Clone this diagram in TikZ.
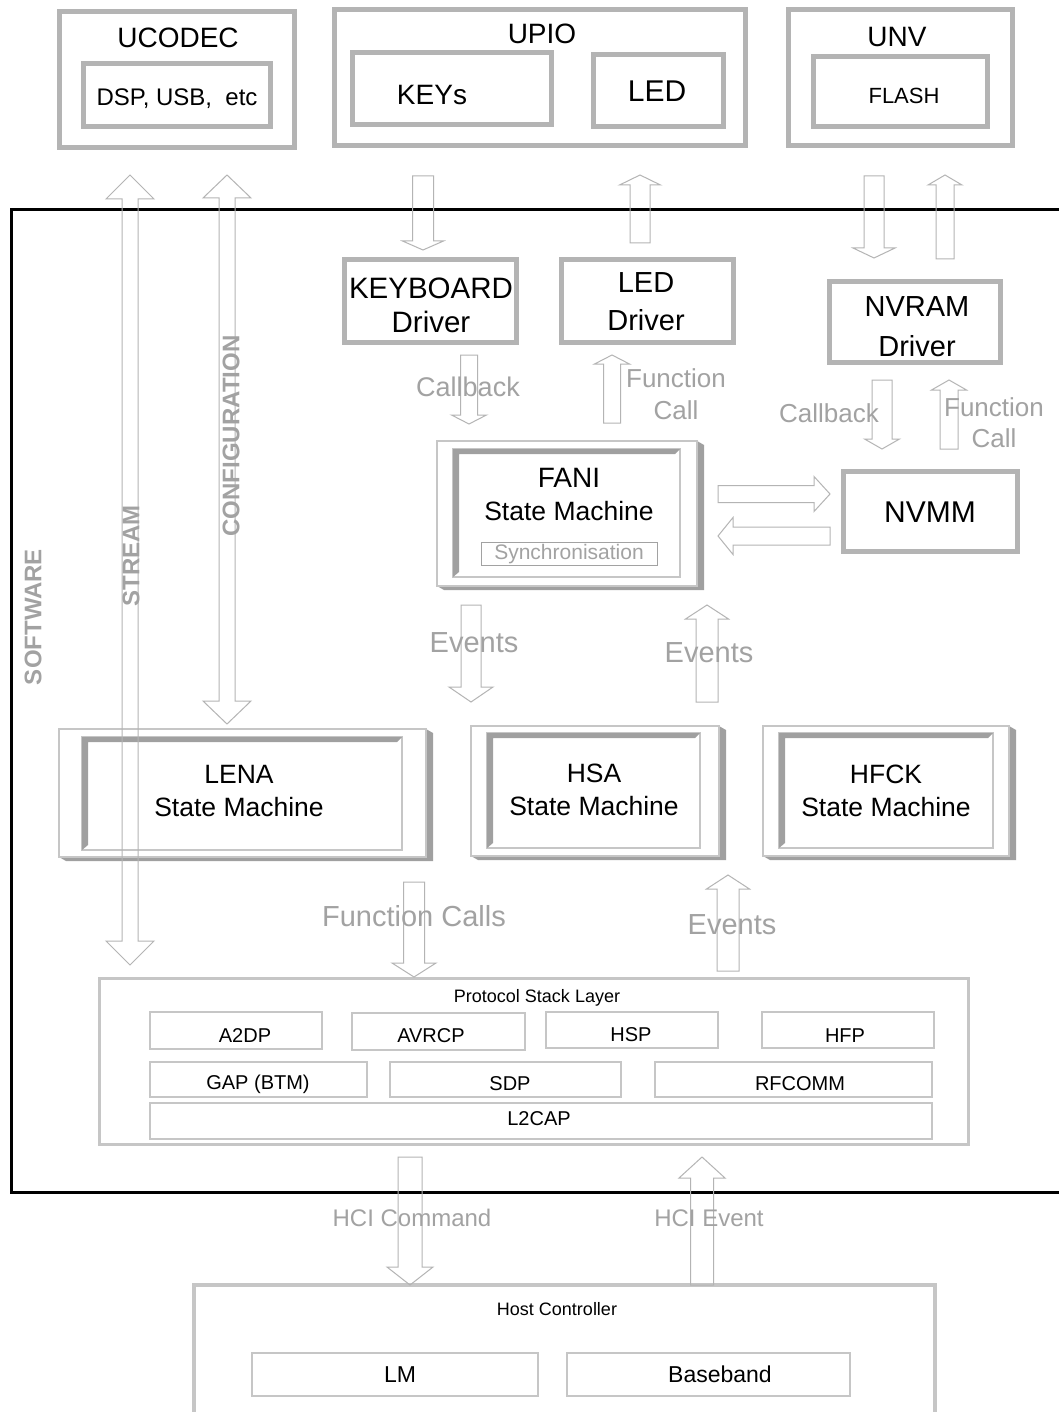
\documentclass[tikz,border=0pt]{standalone}
\usepackage{fontspec}
\setmainfont{Liberation Sans}
\usetikzlibrary{calc}

\definecolor{boxgray}{HTML}{B4B4B4}
\definecolor{arrgray}{HTML}{B4B4B4}
\definecolor{lblgray}{HTML}{A2A2A2}
\definecolor{thingray}{HTML}{C6C6C6}
\definecolor{shadegray}{HTML}{A0A0A0}

\tikzset{
  hwbox/.style={draw=boxgray, line width=5pt},
  psbox/.style={draw=thingray, line width=3pt},
  hcbox/.style={draw=thingray, line width=4pt},
  subbox/.style={draw=thingray, line width=1.5pt},
  smout/.style={draw=thingray, line width=1.2pt},
  smin/.style={draw=thingray, line width=1.2pt},
  syncbox/.style={draw=lblgray, line width=1pt},
  blockarr/.style={draw=arrgray, line width=1pt, line join=miter},
  txt/.style={inner sep=0pt, text=black, align=center},
  glabel/.style={inner sep=0pt, text=lblgray, align=center},
  vlabel/.style={inner sep=0pt, text=lblgray, rotate=90,
                 font=\bfseries\fontsize{24}{28}\selectfont},
  f18/.style={font=\fontsize{18}{22}\selectfont},
  f20/.style={font=\fontsize{20}{24}\selectfont},
  f21/.style={font=\fontsize{21}{25}\selectfont},
  f22/.style={font=\fontsize{22}{26}\selectfont},
  f23/.style={font=\fontsize{23}{27}\selectfont},
  f24/.style={font=\fontsize{24}{28}\selectfont},
  f26/.style={font=\fontsize{26}{33}\selectfont},
  smtext/.style={font=\fontsize{26.5}{33}\selectfont},
  f27/.style={font=\fontsize{27}{32}\selectfont},
  f28/.style={font=\fontsize{28}{34}\selectfont},
  f29/.style={font=\fontsize{29}{34}\selectfont},
  f30/.style={font=\fontsize{30}{38}\selectfont},
}

% rectangle node given by its corners: [style]{name}{x1}{y1}{x2}{y2}
\newcommand\rectnode[6][]{%
  \node[#1, inner sep=0pt, minimum width={#5-#3}, minimum height={#6-#4}]
    (#2) at ({(#3+#5)/2},{(#4+#6)/2}) {};}

% hollow block arrow: {tail}{tip}{shaft half-width}{head half-width}{head length}
\newcommand\blockarrow[5]{%
  \coordinate (ba-h) at ($(#2)!#5pt!(#1)$);
  \draw[blockarr] ($(#1)!#3pt!90:(#2)$) -- ($(ba-h)!#3pt!90:(#2)$)
    -- ($(ba-h)!#4pt!90:(#2)$) -- (#2) -- ($(ba-h)!#4pt!-90:(#2)$)
    -- ($(ba-h)!#3pt!-90:(#2)$) -- ($(#1)!#3pt!-90:(#2)$) -- cycle;}

% hollow block arrow with a head at both ends: {tipA}{tipB}{shaft}{head}{head length}
\newcommand\dblarrow[5]{%
  \coordinate (da-a) at ($(#1)!#5pt!(#2)$);
  \coordinate (da-b) at ($(#2)!#5pt!(#1)$);
  \draw[blockarr] (#1) -- ($(da-a)!#4pt!90:(#2)$) -- ($(da-a)!#3pt!90:(#2)$)
    -- ($(da-b)!#3pt!-90:(#1)$) -- ($(da-b)!#4pt!-90:(#1)$) -- (#2)
    -- ($(da-b)!#4pt!90:(#1)$) -- ($(da-b)!#3pt!90:(#1)$)
    -- ($(da-a)!#3pt!-90:(#2)$) -- ($(da-a)!#4pt!-90:(#2)$) -- cycle;}

% bevelled state machine frame: {name}{outer x1}{y1}{x2}{y2}{inner x1}{y1}{x2}{y2}
\newcommand\smachine[9]{%
  \fill[shadegray] (#2,#5) -- (#2+7,#5+4) -- (#4+7,#5+4) -- (#4+7,#3+4)
    -- (#4,#3) -- (#4,#5) -- cycle;
  \rectnode[smout]{#1o}{#2}{#3}{#4}{#5}
  \rectnode[smin]{#1}{#6}{#7}{#8}{#9}
  \fill[shadegray] (#6,#9) -- (#6,#7) -- (#8,#7) -- (#8-5,#7+5)
    -- (#6+6,#7+5) -- (#6+6,#9-5) -- cycle;}

\begin{document}
\begin{tikzpicture}[x=1pt, y=-1pt]
\useasboundingbox (0,0) rectangle (1059,1412);
\fill[white] (0,0) rectangle (1059,1412);

% ---------------- hardware blocks ----------------
\rectnode[hwbox]{ucodec}{59}{12}{294}{148}
\node[txt, f28] (ucodect) at (178,38) {UCODEC};
\rectnode[hwbox]{dsp}{83}{64}{270}{127}
\node[txt, f24] (dspt) at (177,99) {DSP, USB, \ etc};

\rectnode[hwbox]{upio}{334}{10}{745}{146}
\node[txt, f28] (upiot) at (542,34) {UPIO};
\rectnode[hwbox]{keys}{352}{53}{551}{125}
\node[txt, f28] (keyst) at (432,95) {KEYs};
\rectnode[hwbox]{led}{593}{55}{723}{127}
\node[txt, f30] (ledt) at (657,91) {LED};

\rectnode[hwbox]{unv}{788}{10}{1012}{146}
\node[txt, f28] (unvt) at (897,37) {UNV};
\rectnode[hwbox]{flash}{813}{57}{987}{127}
\node[txt, f22] (flasht) at (904,96) {FLASH};

% ---------------- software frame ----------------
\draw[black, line width=3pt] (11,210) rectangle (1080,1192);
\node[vlabel] (swlabel) at (33,617) {SOFTWARE};

% ---------------- drivers ----------------
\rectnode[hwbox]{kbd}{344}{260}{516}{342}
\node[txt, font=\fontsize{29.5}{34}\selectfont] (kbdt) at (431,305) {KEYBOARD\\Driver};
\rectnode[hwbox]{leddrv}{561}{260}{733}{342}
\node[txt, font=\fontsize{29}{38}\selectfont] (leddrvt) at (646,302) {LED\\Driver};
\rectnode[hwbox]{nvdrv}{829}{282}{1000}{362}
\node[txt, font=\fontsize{29}{40}\selectfont] (nvdrvt) at (917,327) {NVRAM\\Driver};
\rectnode[hwbox]{nvmm}{843}{471}{1017}{551}
\node[txt, f30] (nvmmt) at (930,512) {NVMM};

% ---------------- state machines ----------------
\smachine{fani}{437}{441}{697}{586}{453}{449}{680}{577}
\node[txt, f28] (fanit) at (569,478) {FANI};
\node[txt, smtext] (fanism) at (569,511) {State Machine};
\rectnode[syncbox]{sync}{481}{542}{657}{565}
\node[glabel, f21] (synct) at (569,554) {Synchronisation};

\smachine{lena}{59}{729}{426}{857}{82}{737}{402}{850}
\node[txt, smtext] (lenat) at (239,791) {LENA\\State Machine};
\smachine{hsa}{471}{726}{719}{856}{487}{733}{700}{848}
\node[txt, smtext] (hsat) at (594,790) {HSA\\State Machine};
\smachine{hfck}{763}{726}{1009}{856}{779}{733}{993}{848}
\node[txt, smtext] (hfckt) at (886,791) {HFCK\\State Machine};

% ---------------- protocol stack ----------------
\rectnode[psbox]{psl}{99}{978}{968}{1144}
\node[txt, f18] (pslt) at (537,998) {Protocol Stack Layer};
\rectnode[subbox]{a2dp}{150}{1012}{322}{1049}
\node[txt, f20] (a2dpt) at (245,1036) {A2DP};
\rectnode[subbox]{avrcp}{352}{1013}{525}{1050}
\node[txt, f20] (avrcpt) at (431,1036) {AVRCP};
\rectnode[subbox]{hsp}{546}{1012}{718}{1048}
\node[txt, f20] (hspt) at (631,1035) {HSP};
\rectnode[subbox]{hfp}{762}{1012}{934}{1048}
\node[txt, f20] (hfpt) at (845,1036) {HFP};
\rectnode[subbox]{gap}{150}{1062}{367}{1097}
\node[txt, f20] (gapt) at (258,1084) {GAP (BTM)};
\rectnode[subbox]{sdp}{390}{1062}{621}{1097}
\node[txt, f20] (sdpt) at (510,1084) {SDP};
\rectnode[subbox]{rfcomm}{655}{1062}{932}{1097}
\node[txt, f20] (rfcommt) at (800,1084) {RFCOMM};
\rectnode[subbox]{l2cap}{150}{1103}{932}{1139}
\node[txt, f20] (l2capt) at (539,1119) {L2CAP};

% ---------------- host controller ----------------
\rectnode[hcbox]{hc}{194}{1285}{935}{1440}
\node[txt, f18] (hct) at (557,1309) {Host Controller};
\rectnode[subbox]{lm}{252}{1353}{538}{1396}
\node[txt, f23, anchor=base] (lmt) at (400,1382) {LM};
\rectnode[subbox]{bb}{567}{1353}{850}{1396}
\node[txt, f23, anchor=base] (bbt) at (720,1382) {Baseband};

% ---------------- arrow end points ----------------
\coordinate (stA) at (130,175);   \coordinate (stB) at (130,965);
\coordinate (cfA) at (227,175);   \coordinate (cfB) at (227,724);
\coordinate (kyA) at (423,176);   \coordinate (kyB) at (423,250);
\coordinate (ldA) at (640,243);   \coordinate (ldB) at (640,175);
\coordinate (nvA) at (874,176);   \coordinate (nvB) at (874,258);
\coordinate (nuA) at (945,259);   \coordinate (nuB) at (945,175);
\coordinate (cbA) at (469,355);   \coordinate (cbB) at (469,424);
\coordinate (fcA) at (612,423);   \coordinate (fcB) at (612,355);
\coordinate (ncA) at (882,380);   \coordinate (ncB) at (882,449);
\coordinate (nfA) at (949,449);   \coordinate (nfB) at (949,380);
\coordinate (frA) at (718,494);   \coordinate (frB) at (830,494);
\coordinate (flA) at (830,536);   \coordinate (flB) at (718,536);
\coordinate (evA) at (471,605);   \coordinate (evB) at (471,702);
\coordinate (euA) at (707,702);   \coordinate (euB) at (707,605);
\coordinate (fsA) at (414,882);   \coordinate (fsB) at (414,977);
\coordinate (e2A) at (728,971);   \coordinate (e2B) at (728,875);
\coordinate (hcA) at (410,1157);  \coordinate (hcB) at (410,1285);
\coordinate (heA) at (702,1285);  \coordinate (heB) at (702,1157);

% ---------------- block arrows ----------------
\dblarrow{stA}{stB}{8}{24}{24}
\dblarrow{cfA}{cfB}{8}{24}{23}
\blockarrow{kyA}{kyB}{10.5}{20.5}{9}
\blockarrow{ldA}{ldB}{10}{20.5}{10}
\blockarrow{nvA}{nvB}{10}{21}{10}
\blockarrow{nuA}{nuB}{9}{17}{10}
\blockarrow{cbA}{cbB}{8.5}{17.5}{9}
\blockarrow{fcA}{fcB}{8.5}{17.5}{9}
\blockarrow{ncA}{ncB}{10}{17.5}{10}
\blockarrow{nfA}{nfB}{9}{17.5}{10}
\blockarrow{frA}{frB}{8.5}{17.5}{16}
\blockarrow{flA}{flB}{9}{18.5}{15}
\blockarrow{evA}{evB}{10}{22}{15}
\blockarrow{euA}{euB}{11}{21.5}{14}
\blockarrow{fsA}{fsB}{10.5}{22}{14}
\blockarrow{e2A}{e2B}{11}{21.5}{14}
\blockarrow{hcA}{hcB}{12}{23}{18}
\blockarrow{heA}{heB}{11.5}{23}{21}

% ---------------- arrow labels ----------------
\node[vlabel] (streamt) at (131,556) {STREAM};
\node[vlabel] (configt) at (231,436) {CONFIGURATION};
\node[glabel, f27] (cb1) at (468,387) {Callback};
\node[glabel, f26] (fc1a) at (676,378) {Function};
\node[glabel, f26] (fc1b) at (676,410) {Call};
\node[glabel, f26] (cb2) at (829,413) {Callback};
\node[glabel, f26] (fc2a) at (994,407) {Function};
\node[glabel, f26] (fc2b) at (994,438) {Call};
\node[glabel, f29] (ev1) at (474,643) {Events};
\node[glabel, f29] (ev2) at (709,653) {Events};
\node[glabel, f29] (fcalls) at (414,916) {Function Calls};
\node[glabel, f29] (ev3) at (732,925) {Events};
\node[glabel, f24] (hcicmd) at (412,1218) {HCI Command};
\node[glabel, f24] (hcievt) at (709,1218) {HCI Event};
\end{tikzpicture}
\end{document}
